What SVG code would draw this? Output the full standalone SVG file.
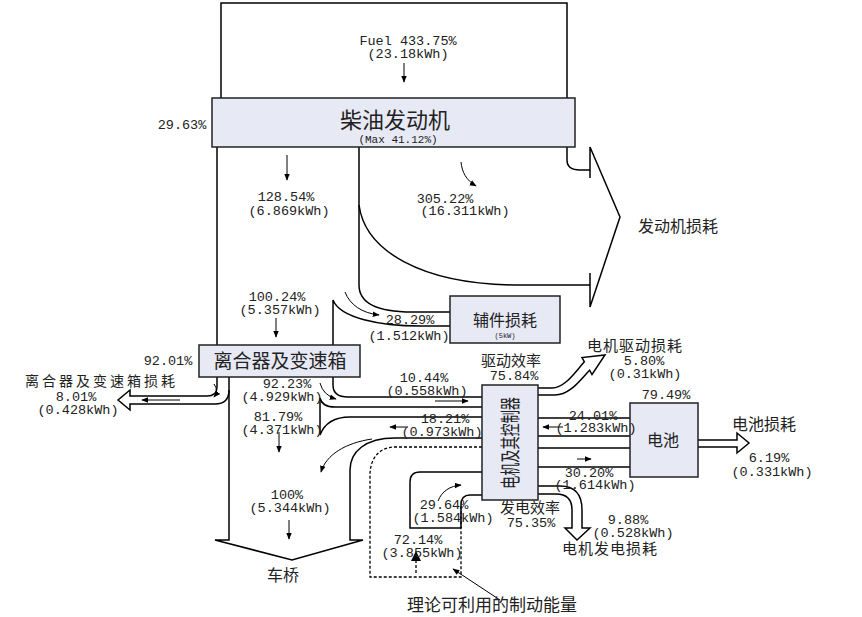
<svg xmlns="http://www.w3.org/2000/svg" width="862" height="617" viewBox="0 0 862 617">
<defs>
<marker id="ah" viewBox="0 0 10 10" refX="9" refY="5" markerWidth="7" markerHeight="7" orient="auto" markerUnits="userSpaceOnUse"><path d="M0,1 L10,5 L0,9 Z" fill="#000"/></marker>
</defs>
<style>
.ln{fill:none;stroke:#000;stroke-width:1.5}
.th{fill:none;stroke:#000;stroke-width:1}
.dt{fill:none;stroke:#000;stroke-width:1.3;stroke-dasharray:3,2}
.box{fill:#e7e9f5;stroke:#222;stroke-width:1.5}
.n{font-family:"Liberation Mono",monospace;font-size:13.5px;fill:#222;text-anchor:middle}
.c{font-family:"Noto Sans CJK SC",sans-serif;font-size:16px;fill:#222}
.m{text-anchor:middle}
</style>
<rect width="862" height="617" fill="#fff"/>
<g id="connectors">
<path class="ln" d="M221,98 V3 H567 V98"/>
<line class="th" x1="404" y1="63" x2="404" y2="82" marker-end="url(#ah)"/>
<path class="ln" d="M217,147 V345"/>
<path class="ln" d="M359,147 V285 C359,305 380,312 412,312 H450"/>
<path class="ln" d="M567,147 V160 Q567,170 580,170 H590"/>
<path class="ln" d="M359,205 C365,250 420,285 520,285 H590"/>
<path class="ln" d="M590,178 V147 L620,217 L590,307 V273"/>
<line class="th" x1="287" y1="155" x2="287" y2="180" marker-end="url(#ah)"/>
<path class="th" d="M461,162 C462,172 466,180 476,186" marker-end="url(#ah)"/>
<path class="ln" d="M333,345 V300 C340,318 380,326 420,326 H450"/>
<path class="th" d="M345,292 C350,305 362,313 379,315" marker-end="url(#ah)"/>
<line class="th" x1="276" y1="318" x2="276" y2="337" marker-end="url(#ah)"/>
<path class="ln" d="M217,377 V387 Q217,396 207,396 H130 V390 L118,400 L130,410 V404 H215 Q229,404 229,390"/>
<line class="th" x1="180" y1="400" x2="142" y2="400" marker-end="url(#ah)"/>
<path class="th" d="M214,384 Q219,391 214,397" marker-end="url(#ah)"/>
<path class="ln" d="M229,377 V540 H215 L292,560 L363,540 H350 V470 C350,452 365,438 395,438 H482"/>
<line class="th" x1="279" y1="432" x2="279" y2="452" marker-end="url(#ah)"/>
<line class="th" x1="289" y1="520" x2="289" y2="539" marker-end="url(#ah)"/>
<path class="ln" d="M333,377 V385 Q333,397 348,397 H482"/>
<path class="ln" d="M320,398 Q322,407 335,407 H482"/>
<path class="ln" d="M320,398 V435 C325,422 335,417 350,417 H482"/>
<path class="th" d="M320,383 Q323,395 336,399" marker-end="url(#ah)"/>
<line class="th" x1="435" y1="401" x2="468" y2="401" marker-end="url(#ah)"/>
<line class="th" x1="408" y1="427" x2="390" y2="427" marker-end="url(#ah)"/>
<path class="th" d="M372,439 C345,443 326,455 321,472" marker-end="url(#ah)"/>
<path class="dt" d="M482,447 H395 C378,447 370,460 370,475 V577 H461 V505"/>
<path class="dt" d="M416,573 V560"/>
<path d="M411,561 L416,551 L421,561 Z" fill="#000"/>
<line class="th" x1="500" y1="600" x2="453" y2="569" marker-end="url(#ah)"/>
<path class="ln" d="M482,472 H420 Q410,472 410,482 V528 H461"/>
<path class="ln" d="M482,495 H470 Q461,495 461,505 V528"/>
<path class="th" d="M438,501 C442,491 450,486 461,485" marker-end="url(#ah)"/>
<path class="ln" d="M538,486 H560 C575,486 582,495 582,510 V528 H590 L577,540 L565,528 H572 V510 C572,500 567,494 556,494 H538"/>
<path class="ln" d="M538,388 H552 C565,388 575,372 584.4,361.8 L582,357.5 L605,355 L592,374.5 L589.6,370.2 C580,380 570,395 555,395 H538"/>
<line class="ln" x1="538" y1="418" x2="630" y2="418"/>
<line class="ln" x1="538" y1="436" x2="630" y2="436"/>
<line class="ln" x1="538" y1="448" x2="630" y2="448"/>
<line class="ln" x1="538" y1="467" x2="630" y2="467"/>
<line class="th" x1="563" y1="427" x2="543" y2="427" marker-end="url(#ah)"/>
<line class="th" x1="577" y1="459" x2="591" y2="459" marker-end="url(#ah)"/>
<path class="ln" d="M698,440 H737 V433 L749,443 L737,453 V447 H698"/>
</g>
<g id="engine">
<rect class="box" x="212" y="98" width="363" height="49"/>
<text class="c m" x="395" y="128" style="font-size:22px">柴油发动机</text>
<text class="n" x="398" y="143" style="font-size:11px">(Max  41.12%)</text>
</g>
<g id="aux">
<rect class="box" x="450" y="296" width="110" height="47"/>
<text class="c m" x="505" y="326">辅件损耗</text>
<text class="n" x="505" y="338" style="font-size:7px">(5kW)</text>
</g>
<g id="gearbox">
<rect class="box" x="199" y="345" width="161" height="32"/>
<text class="c m" x="280" y="368" style="font-size:19px">离合器及变速箱</text>
</g>
<g id="motor">
<rect class="box" x="482" y="385" width="56" height="115"/>
<text class="c m" transform="translate(509,443) rotate(-90)" dominant-baseline="central" style="font-size:20px" textLength="92" lengthAdjust="spacingAndGlyphs">电机及其控制器</text>
</g>
<g id="battery">
<rect class="box" x="630" y="403" width="68" height="74"/>
<text class="c m" x="663" y="446">电池</text>
</g>
<g id="labels">
<text class="n" x="408" y="45">Fuel 433.75%</text>
<text class="n" x="408" y="58">(23.18kWh)</text>
<text class="n" x="182" y="129">29.63%</text>
<text class="n" x="286" y="201">128.54%</text>
<text class="n" x="289" y="215">(6.869kWh)</text>
<text class="n" x="445" y="203">305.22%</text>
<text class="n" x="465" y="215">(16.311kWh)</text>
<text class="c" x="638" y="232">发动机损耗</text>
<text class="n" x="277" y="301">100.24%</text>
<text class="n" x="280" y="314">(5.357kWh)</text>
<text class="n" x="410" y="324">28.29%</text>
<text class="n" x="409" y="340">(1.512kWh)</text>
<text class="n" x="168" y="365">92.01%</text>
<text class="c" x="25" y="386" style="font-size:14px;letter-spacing:3px">离合器及变速箱损耗</text>
<text class="n" x="76" y="401">8.01%</text>
<text class="n" x="78" y="414">(0.428kWh)</text>
<text class="n" x="287" y="388">92.23%</text>
<text class="n" x="282" y="401">(4.929kWh)</text>
<text class="n" x="278" y="421">81.79%</text>
<text class="n" x="282" y="434">(4.371kWh)</text>
<text class="n" x="424" y="382">10.44%</text>
<text class="n" x="427" y="395">(0.558kWh)</text>
<text class="c m" x="511" y="366" style="font-size:15px">驱动效率</text>
<text class="n" x="514" y="380">75.84%</text>
<text class="n" x="445" y="423">18.21%</text>
<text class="n" x="442" y="436">(0.973kWh)</text>
<text class="c" x="587" y="351" style="font-size:15px;letter-spacing:1px">电机驱动损耗</text>
<text class="n" x="644" y="365">5.80%</text>
<text class="n" x="645" y="378">(0.31kWh)</text>
<text class="n" x="666" y="399">79.49%</text>
<text class="n" x="593" y="420">24.01%</text>
<text class="n" x="596" y="432">(1.283kWh)</text>
<text class="c" x="732" y="430">电池损耗</text>
<text class="n" x="769" y="462">6.19%</text>
<text class="n" x="772" y="476">(0.331kWh)</text>
<text class="n" x="589" y="477">30.20%</text>
<text class="n" x="595" y="489">(1.614kWh)</text>
<text class="n" x="444" y="509">29.64%</text>
<text class="n" x="453" y="522">(1.584kWh)</text>
<text class="c m" x="530" y="513" style="font-size:15px">发电效率</text>
<text class="n" x="531" y="527">75.35%</text>
<text class="n" x="628" y="524">9.88%</text>
<text class="n" x="633" y="537">(0.528kWh)</text>
<text class="c" x="562" y="554" style="font-size:15px;letter-spacing:1px">电机发电损耗</text>
<text class="n" x="287" y="499">100%</text>
<text class="n" x="290" y="512">(5.344kWh)</text>
<text class="n" x="418" y="544">72.14%</text>
<text class="n" x="422" y="557">(3.855kWh)</text>
<text class="c m" x="283" y="581">车桥</text>
<text class="c m" x="492" y="611" style="font-size:17px">理论可利用的制动能量</text>
</g>
</svg>
